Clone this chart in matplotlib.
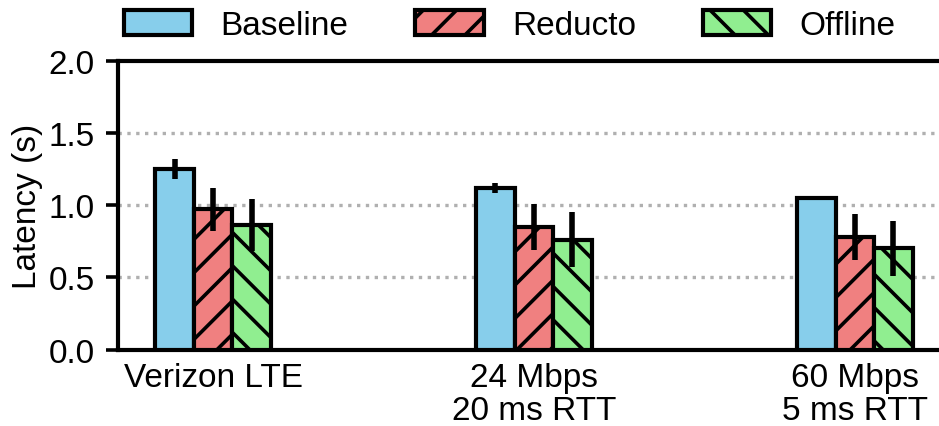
import matplotlib
matplotlib.use("Agg")
import matplotlib.pyplot as plt
import numpy as np

# Network conditions (x categories)
conditions = ["Verizon LTE", "24 Mbps\n20 ms RTT", "60 Mbps\n5 ms RTT"]

# Mean latency (s) and error half-widths per scheme
baseline = [1.25, 1.12, 1.05]
baseline_err = [0.07, 0.035, 0.008]
reducto = [0.97, 0.85, 0.78]
reducto_err = [0.15, 0.16, 0.16]
offline = [0.86, 0.76, 0.70]
offline_err = [0.18, 0.19, 0.19]

series_names = ["Baseline", "Reducto", "Offline"]

plt.rcParams["font.family"] = ["Liberation Sans", "DejaVu Sans"]
plt.rcParams["font.size"] = 12
plt.rcParams["hatch.linewidth"] = 1.3

fig = plt.figure(figsize=(4.695, 2.135), dpi=200)
ax = fig.add_axes([0.1257, 0.179, 0.8743, 0.6765])

x = np.arange(len(conditions))
width = 0.12
styles = [
    dict(color="#87CEEB", hatch=None),
    dict(color="#F08080", hatch="//"),
    dict(color="#90EE90", hatch="\\\\"),
]
data = [(baseline, baseline_err), (reducto, reducto_err), (offline, offline_err)]

for i, ((vals, errs), st, name) in enumerate(zip(data, styles, series_names)):
    ax.bar(x + (i - 1) * width, vals, width, yerr=errs,
           color=st["color"], edgecolor="black", linewidth=1.5,
           hatch=st["hatch"], label=name, zorder=3,
           error_kw=dict(elinewidth=2.0, capsize=0, ecolor="black", zorder=4))

ax.set_ylim(0, 2.0)
ax.set_xlim(-0.296, 2.262)
ax.set_yticks([0.0, 0.5, 1.0, 1.5, 2.0])
ax.set_yticklabels([f"{v:.1f}" for v in [0.0, 0.5, 1.0, 1.5, 2.0]])
ax.set_xticks(x)
ax.set_xticklabels(conditions, linespacing=1.08)
ax.tick_params(axis="x", length=0, pad=4.5)
ax.tick_params(axis="y", length=4.3, width=1.3, pad=4)
ax.set_ylabel("Latency (s)", labelpad=2)

for y in [0.5, 1.0, 1.5]:
    ax.axhline(y, color="#b0b0b0", linestyle=":", linewidth=1.2, zorder=1)

for side in ["left", "bottom", "top"]:
    ax.spines[side].set_linewidth(1.5)
ax.spines["right"].set_visible(False)

ax.legend(loc="lower center", bbox_to_anchor=(0.477, 1.068), ncol=3,
          frameon=False, handlelength=2.05, handleheight=0.8,
          handletextpad=0.85, columnspacing=2.0, borderaxespad=0,
          borderpad=0)

fig.savefig("out.png", dpi=200)
